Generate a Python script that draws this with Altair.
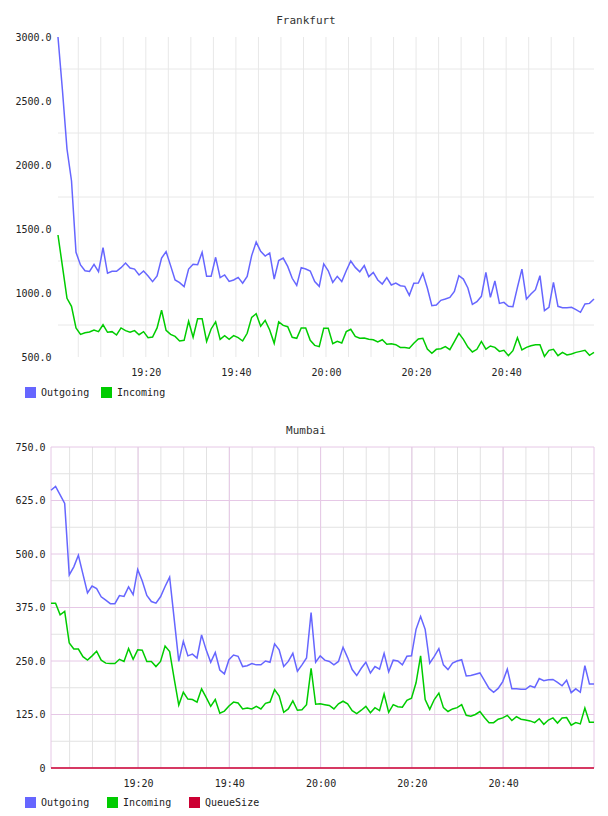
import altair as alt
import pandas as pd

# ---------------- Frankfurt: one sample per minute ----------------
fra_outgoing = [
    3000, 2580, 2125, 1877, 1318, 1219, 1174, 1169, 1224, 1166,
    1354, 1154, 1169, 1169, 1198, 1234, 1195, 1187, 1141, 1172,
    1133, 1089, 1133, 1273, 1323, 1214, 1102, 1081, 1050, 1187,
    1224, 1221, 1318, 1130, 1130, 1279, 1120, 1141, 1091, 1102,
    1122, 1076, 1130, 1292, 1398, 1326, 1289, 1313, 1109, 1253,
    1273, 1208, 1115, 1060, 1198, 1187, 1172, 1089, 1052, 1227,
    1174, 1083, 1130, 1089, 1174, 1250, 1200, 1166, 1214, 1128,
    1161, 1102, 1070, 1120, 1063, 1078, 1057, 1052, 982, 1076,
    1078, 1154, 1039, 901, 906, 943, 953, 966, 1013, 1135,
    1109, 1039, 911, 932, 974, 1161, 966, 1094, 919, 927,
    896, 893, 1044, 1187, 953, 992, 1026, 1135, 862, 888,
    1083, 896, 885, 885, 888, 870, 849, 914, 919, 953,
]
fra_incoming = [
    1453, 1206, 959, 896, 727, 677, 690, 695, 711, 698,
    752, 693, 698, 672, 727, 706, 693, 706, 674, 698,
    651, 656, 727, 865, 708, 677, 661, 625, 630, 779,
    654, 799, 799, 622, 719, 774, 638, 667, 638, 667,
    651, 625, 685, 810, 838, 740, 786, 711, 607, 774,
    747, 737, 654, 646, 727, 727, 630, 591, 581, 724,
    724, 604, 622, 609, 698, 716, 661, 646, 648, 638,
    635, 617, 635, 599, 604, 596, 575, 575, 568, 607,
    641, 646, 562, 529, 560, 565, 581, 557, 620, 685,
    638, 578, 539, 560, 622, 562, 586, 575, 544, 552,
    510, 549, 651, 555, 575, 588, 596, 596, 505, 552,
    560, 510, 536, 516, 523, 536, 544, 552, 513, 536,
]

# ---------------- Mumbai: one sample per minute ----------------
mum_outgoing = [
    649, 658, 638, 618, 451, 470, 497, 453, 409, 425,
    419, 400, 392, 384, 384, 403, 401, 423, 405, 464,
    437, 403, 389, 385, 400, 424, 446, 348, 249, 296,
    262, 266, 257, 311, 276, 247, 270, 229, 220, 253,
    264, 261, 237, 239, 244, 241, 241, 250, 247, 290,
    276, 237, 249, 268, 226, 241, 257, 363, 247, 262,
    252, 249, 241, 249, 282, 258, 230, 216, 233, 247,
    222, 237, 231, 268, 225, 252, 250, 241, 261, 262,
    324, 354, 324, 245, 261, 279, 241, 230, 245, 250,
    253, 215, 216, 219, 222, 204, 186, 177, 186, 202,
    231, 185, 185, 184, 184, 192, 188, 209, 204, 206,
    207, 200, 192, 205, 176, 185, 177, 239, 196, 196,
]
mum_incoming = [
    385, 385, 358, 366, 292, 278, 278, 260, 252, 262,
    273, 252, 245, 244, 244, 254, 249, 279, 254, 276,
    275, 249, 249, 237, 249, 285, 272, 208, 147, 177,
    161, 160, 154, 185, 165, 144, 160, 128, 133, 145,
    154, 152, 138, 140, 138, 144, 138, 151, 154, 183,
    168, 130, 138, 157, 135, 136, 148, 233, 149, 150,
    148, 146, 138, 150, 156, 150, 134, 127, 135, 144,
    129, 141, 134, 173, 130, 148, 143, 142, 158, 163,
    199, 262, 160, 137, 160, 175, 141, 132, 138, 141,
    148, 123, 121, 125, 132, 118, 106, 106, 114, 117,
    123, 111, 120, 114, 112, 110, 106, 115, 102, 112,
    117, 105, 117, 118, 100, 106, 103, 140, 107, 107,
]
mum_queue = [
    0, 0, 0, 0, 0, 0, 0, 0, 0, 0, 0, 0, 0, 0, 0, 0, 0, 0, 0, 0,
    0, 0, 0, 0, 0, 0, 0, 0, 0, 0, 0, 0, 0, 0, 0, 0, 0, 0, 0, 0,
    0, 0, 0, 0, 0, 0, 0, 0, 0, 0, 0, 0, 0, 0, 0, 0, 0, 0, 0, 0,
    0, 0, 0, 0, 0, 0, 0, 0, 0, 0, 0, 0, 0, 0, 0, 0, 0, 0, 0, 0,
    0, 0, 0, 0, 0, 0, 0, 0, 0, 0, 0, 0, 0, 0, 0, 0, 0, 0, 0, 0,
    0, 0, 0, 0, 0, 0, 0, 0, 0, 0, 0, 0, 0, 0, 0, 0, 0, 0, 0, 0,
]

fra_series = ["Outgoing", "Incoming"]
fra_colors = ["#6666ff", "#00cc00"]
mum_series = ["Outgoing", "Incoming", "QueueSize"]
mum_colors = ["#6666ff", "#00cc00", "#cc0033"]

# time axis: minutes after 19:00; first sample of each station, one sample per minute
fra_first_min = 0.5
mum_first_min = 55 / 60

# time ticks (minutes after 19:00)
time_labels = [20, 40, 60, 80, 100]
time_grid = [5, 10, 15, 20, 25, 30, 35, 40, 45, 50, 55, 60,
             65, 70, 75, 80, 85, 90, 95, 100, 105, 110, 115]

# value ticks
fra_value_labels = [500, 1000, 1500, 2000, 2500, 3000]
fra_value_grid = [750, 1250, 1750, 2250, 2750]
mum_value_labels = [0, 125, 250, 375, 500, 625, 750]
mum_value_grid = [62.5, 187.5, 312.5, 437.5, 562.5, 687.5]

FONT = "DejaVu Sans Mono"
TEXT = "#222222"
HHMM = ("(19 + floor(datum.value / 60)) + ':' + "
        "(datum.value % 60 < 10 ? '0' : '') + (datum.value % 60)")


def long_frame(first, named):
    n = len(next(iter(named.values())))
    minutes = [first + i for i in range(n)]
    parts = [pd.DataFrame({"t": minutes, "series": k, "value": v})
             for k, v in named.items()]
    return pd.concat(parts, ignore_index=True), minutes[0], minutes[-1]


def panel(frame, series, colors, title, ydom, ylabels, ylabel_expr,
          xgrid_minor, xgrid_major, ygrid_minor, ygrid_major,
          minor_color, major_color, width, height, ylab_pad,
          legend_x, legend_y, col_pad, lead_min=0.0):
    df, t0, t1 = frame
    # lead_min leaves an empty strip before the first sample
    xscale = alt.Scale(domain=[t0 - lead_min, t1], nice=False, zero=False)
    yscale = alt.Scale(domain=ydom, nice=False, zero=False)
    cscale = alt.Scale(domain=series, range=colors)

    xaxis = alt.Axis(orient="bottom", values=time_labels, labelExpr=HHMM,
                     grid=False, ticks=False, domain=False, labelPadding=10,
                     labelFont=FONT, labelFontSize=10, labelColor=TEXT)
    yaxis = alt.Axis(orient="left", values=ylabels, labelExpr=ylabel_expr,
                     grid=False, ticks=False, domain=False,
                     labelPadding=ylab_pad, labelFont=FONT, labelFontSize=10,
                     labelColor=TEXT)
    X = alt.X("t:Q", scale=xscale, axis=xaxis, title=None)
    Y = alt.Y("value:Q", scale=yscale, axis=yaxis, title=None)

    layers = []

    def vrules(vals, color):
        d = pd.DataFrame({"t": vals})
        return alt.Chart(d).mark_rule(color=color, strokeWidth=1).encode(
            x=alt.X("t:Q", scale=xscale, axis=xaxis, title=None))

    def hrules(vals, color):
        # horizontal grid spans the sampled time range
        d = pd.DataFrame({"value": vals, "t": t0, "t_end": t1})
        return alt.Chart(d).mark_rule(color=color, strokeWidth=1).encode(
            y=alt.Y("value:Q", scale=yscale, axis=yaxis, title=None),
            x=alt.X("t:Q", scale=xscale, axis=xaxis, title=None),
            x2="t_end:Q")

    layers.append(vrules(xgrid_minor, minor_color))
    layers.append(hrules(ygrid_minor, minor_color))
    if major_color is not None:
        layers.append(vrules(xgrid_major, major_color))
        layers.append(hrules(ygrid_major, major_color))

    lines = alt.Chart(df).mark_line(strokeWidth=1.5).encode(
        x=X, y=Y,
        color=alt.Color("series:N", scale=cscale, legend=alt.Legend(
            title=None, orient="none", legendX=legend_x, legendY=legend_y,
            direction="horizontal", symbolType="square", symbolSize=25,
            symbolStrokeWidth=6, labelFont=FONT, labelFontSize=10,
            labelColor=TEXT, labelOffset=5, columnPadding=col_pad, padding=0)),
    )
    layers.append(lines)

    return alt.layer(*layers).properties(
        width=width, height=height,
        title=alt.TitleParams(text=title, font=FONT, fontSize=11,
                              fontWeight="normal", color="#333333",
                              anchor="middle", frame="bounds", offset=6),
    )


fra = long_frame(fra_first_min, {"Outgoing": fra_outgoing, "Incoming": fra_incoming})
mum = long_frame(mum_first_min, {"Outgoing": mum_outgoing, "Incoming": mum_incoming,
                                 "QueueSize": mum_queue})

top = panel(
    fra, fra_series, fra_colors, "Frankfurt", [500, 3000],
    fra_value_labels, "format(datum.value, '.1f')",
    time_grid, None, fra_value_grid, None,
    "#e8e8e8", None, 543, 320, 0, -26, 350, 2, lead_min=1.55,
)

# Mumbai: pink frame on both ends of the time range plus every 20 minutes
mum_major_x = [mum[1]] + time_labels + [mum[2]]
bottom = panel(
    mum, mum_series, mum_colors, "Mumbai", [0, 750],
    mum_value_labels, "datum.value == 0 ? '0' : format(datum.value, '.1f')",
    time_grid, mum_major_x, mum_value_grid, mum_value_labels,
    "#e2e2e2", "#e6c8e6", 543, 321, 6, -26, 350, 8,
)

chart = alt.concat(top, bottom, columns=1, spacing=18, align="none").resolve_scale(
    color="independent"
).resolve_legend(
    color="independent"
).properties(
    padding={"left": 14, "top": 15, "right": 0, "bottom": 0}
).configure_view(strokeWidth=0)

chart.save("out.html", embed_options={"renderer": "svg", "actions": False})
